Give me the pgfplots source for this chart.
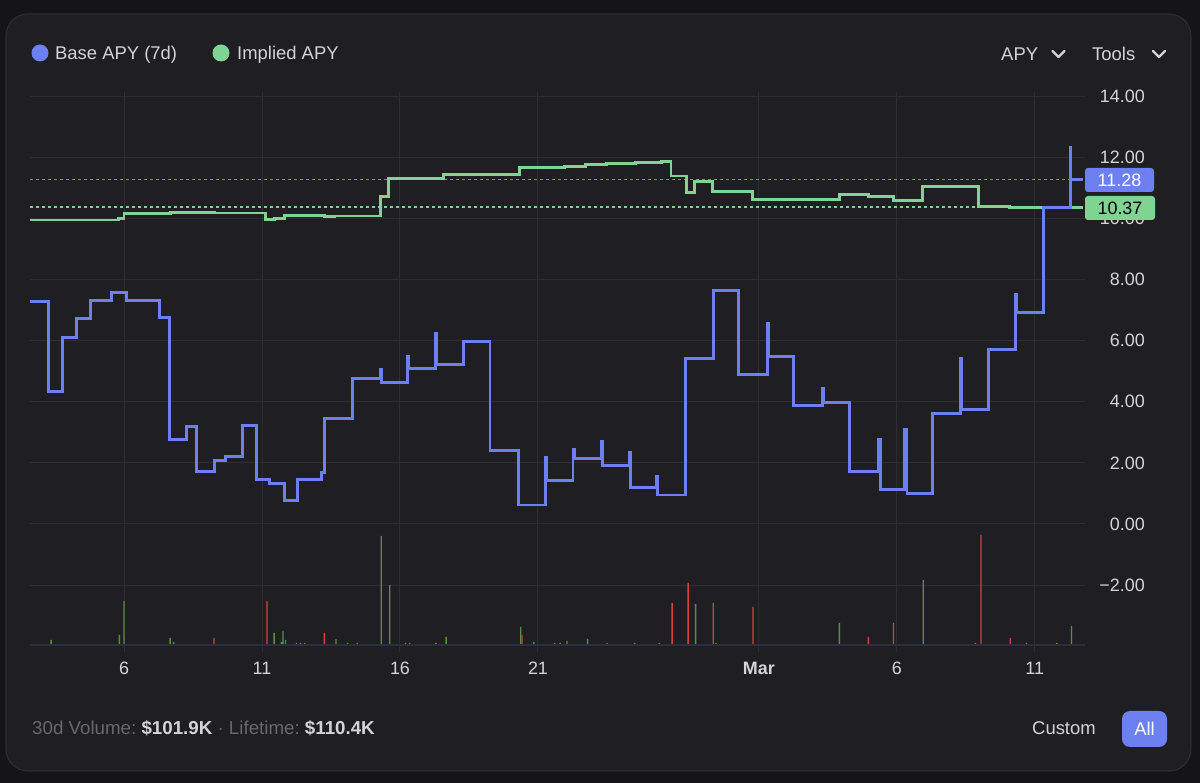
\documentclass[border=0pt]{standalone}
\usepackage{fontspec}
\setmainfont{Liberation Sans}
\usepackage{pgfplots}
\pgfplotsset{compat=1.18}
\definecolor{outerbg}{HTML}{151517}
\definecolor{cardbg}{HTML}{1F1F23}
\definecolor{cardborder}{HTML}{2C2C31}
\definecolor{gridcol}{HTML}{2D2D32}
\definecolor{textlight}{HTML}{D4D4D8}
\definecolor{footgray}{HTML}{67676C}
\definecolor{blueline}{HTML}{6C80F2}
\definecolor{bluedash}{HTML}{7082F5}
\definecolor{greenline}{HTML}{7FD494}
\definecolor{volgreen}{HTML}{55923A}
\definecolor{volred}{HTML}{D2443A}
\definecolor{basecol}{HTML}{2C2D3E}
\begin{document}
\begin{tikzpicture}[x=1bp,y=1bp]
\fill[outerbg] (0,0) rectangle (1200,783);
\useasboundingbox (0,0) rectangle (1200,783);
\filldraw[fill=cardbg, draw=cardborder, line width=1.2bp, rounded corners=22bp] (6,12) rectangle (1191,769);

% main axis
\begin{axis}[at={(30bp,131bp)}, anchor=south west, scale only axis,
  width=1055bp, height=560bp,
  xmin=2.594, xmax=40.82, ymin=-4.19, ymax=14.14,
  axis line style={draw=none}, major tick length=0pt,
  xtick={6,11,16,21,29,34,39}, xticklabels={6,11,16,21,\textbf{Mar},6,11},
  ytick={-2,0,2,4,6,8,10,12,14},
  yticklabels={−2.00,0.00,2.00,4.00,6.00,8.00,10.00,12.00,14.00},
  yticklabel pos=right,
  grid=major, major grid style={gridcol, line width=1bp},
  tick label style={textlight, font=\fontsize{18}{20}\selectfont},
  yticklabel style={anchor=east, inner sep=0pt, xshift=60bp},
  xticklabel style={anchor=base, inner sep=0pt, yshift=-22.5bp},
]
\addplot[bluedash, dash pattern=on 3bp off 3bp, line width=1.7bp] coordinates {(2.594,11.28) (40.82,11.28)};
\addplot[greenline, dash pattern=on 3bp off 3bp, line width=1.5bp] coordinates {(2.594,10.37) (40.82,10.37)};
\addplot[const plot, greenline, line width=2.9bp] coordinates {
(2.60,9.95) (5.80,9.99) (6.00,10.16) (7.68,10.20) (9.27,10.18) (11.14,9.97)
(11.46,10.00) (11.80,10.10) (13.27,10.05) (13.64,10.08) (15.28,10.71) (15.58,11.31)
(17.59,11.45) (20.34,11.66) (21.96,11.69) (22.72,11.78) (23.49,11.81) (24.52,11.84)
(25.49,11.87) (25.82,11.39) (26.39,10.85) (26.68,11.20) (27.32,10.87) (28.77,10.62)
(31.91,10.77) (32.96,10.71) (33.87,10.60) (34.93,11.04) (36.95,10.40) (38.10,10.37)
(40.73,10.37)};
\addplot[const plot, blueline, line width=2.9bp] coordinates {
(2.60,7.27) (3.28,4.34) (3.76,6.11) (4.29,6.72) (4.77,7.31) (5.55,7.59) (6.10,7.31)
(7.27,6.77) (7.64,2.78) (8.27,3.20) (8.63,1.72) (9.27,2.08) (9.68,2.21) (10.29,3.22)
(10.81,1.47) (11.27,1.32) (11.81,0.77) (12.29,1.45) (13.16,1.69) (13.28,3.44)
(14.28,4.76) (15.28,5.07) (15.32,4.64) (16.28,5.47) (16.32,5.08) (17.28,6.25)
(17.32,5.22) (18.29,5.98) (19.26,2.40) (20.28,0.62) (21.28,2.18) (21.32,1.42)
(22.27,2.43) (22.31,2.14) (23.31,2.70) (23.35,1.91) (24.31,2.34) (24.35,1.20)
(25.29,1.56) (25.33,0.95) (26.34,5.43) (27.36,7.65) (28.28,4.89) (29.30,6.58)
(29.34,5.49) (30.27,3.87) (31.31,4.45) (31.35,3.99) (32.28,1.72) (33.32,2.76)
(33.40,1.12) (34.29,3.11) (34.37,1.01) (35.30,3.61) (36.30,5.43) (36.34,3.76)
(37.31,5.71) (38.31,7.51) (38.35,6.91) (39.33,10.35) (40.28,12.32) (40.30,11.28)
(40.73,11.28)};
\end{axis}

% volume axis
\begin{axis}[at={(30bp,131bp)}, anchor=south west, scale only axis,
  width=1055bp, height=560bp,
  xmin=2.594, xmax=40.82, ymin=-7, ymax=553, hide axis,
  ybar, bar width=1.4bp, bar shift=0pt]
\addplot[fill=volgreen, draw=none] coordinates {
(3.36,5) (5.83,10) (6.0,44) (7.67,7) (7.8,3) (11.44,12) (11.70,3) (11.76,14) (11.85,5)
(12.25,2) (12.40,2) (12.55,2) (13.68,6) (14.10,2) (14.45,2) (15.32,109) (15.63,60)
(16.20,2) (16.35,2) (17.30,2) (17.67,8) (20.375,18) (20.85,3) (21.60,2) (21.80,2)
(22.05,4) (22.80,6) (23.50,2) (24.50,2) (25.40,2) (26.71,41) (27.45,2) (31.92,22)
(34.96,65) (36.85,2) (38.70,2) (39.80,2) (40.33,19)};
\addplot[fill=volred, draw=none] coordinates {
(9.26,7) (11.18,44) (13.26,12) (20.42,10) (25.86,42) (26.44,62) (27.35,42) (28.79,38)
(32.97,8) (33.88,22) (37.05,110) (38.11,7)};
\end{axis}
\draw[basecol, line width=1.2bp] (30,138) -- (1085,138);

% right value boxes
\fill[blueline, rounded corners=3bp] (1085,591) rectangle (1154,615);
\node[white, font=\fontsize{18}{20}\selectfont] at (1119.5,603) {11.28};
\fill[greenline, rounded corners=3bp] (1085,563) rectangle (1155,587);
\node[black, font=\fontsize{18}{20}\selectfont] at (1120,575) {10.37};

% legend
\fill[blueline] (40,730) circle (8.5);
\node[anchor=base west, inner sep=0pt, textlight, font=\fontsize{18.5}{22}\selectfont] at (55,723.4) {Base APY (7d)};
\fill[greenline] (221,730) circle (8.5);
\node[anchor=base west, inner sep=0pt, textlight, font=\fontsize{18.5}{22}\selectfont] at (237,723.4) {Implied APY};

% header right
\node[anchor=base west, inner sep=0pt, textlight, font=\fontsize{18.5}{22}\selectfont] at (1001,722.7) {APY};
\draw[textlight, line width=2.2bp, line cap=round, line join=round] (1052.5,732) -- (1058.5,726) -- (1064.5,732);
\node[anchor=base west, inner sep=0pt, textlight, font=\fontsize{18.5}{22}\selectfont] at (1092,722.7) {Tools};
\draw[textlight, line width=2.2bp, line cap=round, line join=round] (1153,732) -- (1159,726) -- (1165,732);

% footer
\node[anchor=base west, inner sep=0pt, font=\fontsize{18.8}{22}\selectfont] at (32,48.4)
  {\textcolor{footgray}{30d Volume:}\ \textcolor{textlight}{\bfseries \$101.9K}\ \textcolor{footgray}{·}\ \textcolor{footgray}{Lifetime:}\ \textcolor{textlight}{\bfseries \$110.4K}};
\node[anchor=base west, inner sep=0pt, textlight, font=\fontsize{18.5}{22}\selectfont] at (1032,48.4) {Custom};
\fill[blueline, rounded corners=8bp] (1122,36) rectangle (1167,72);
\node[anchor=base, inner sep=0pt, white, font=\fontsize{18.5}{22}\selectfont] at (1144.5,47.7) {All};
\end{tikzpicture}
\end{document}
